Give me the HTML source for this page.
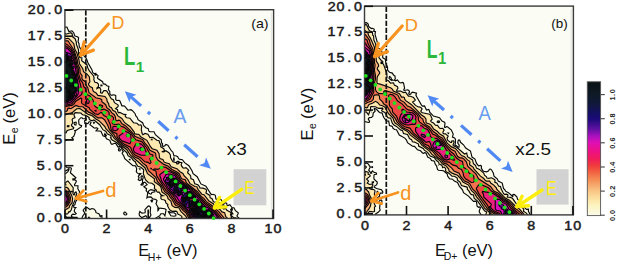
<!DOCTYPE html><html><head><meta charset="utf-8"><style>html,body{margin:0;padding:0;background:#fff;width:617px;height:262px;overflow:hidden}svg{display:block}</style></head><body><svg width="617" height="262" viewBox="0 0 617 262"><clipPath id="ca"><rect x="64.9" y="9.7" width="208.7" height="208.8"/></clipPath><rect x="64.9" y="9.7" width="208.7" height="208.8" fill="#fbfcf4"/><g clip-path="url(#ca)" stroke="#080808" stroke-width="1.15"><path fill="#fbfae6" d="M241.9 221.7 212.9 222.3 140.1 221.7 140.2 219.7 141.9 217.8 144.9 220.0 147.6 219.7 146.7 216.7 145.9 215.8 141.9 217.6 139.5 215.7 139.1 213.7 139.9 211.5 141.9 213.1 145.0 212.7 145.3 211.7 144.9 209.7 147.9 206.3 148.9 205.9 149.9 206.4 150.6 207.7 150.2 212.7 150.9 214.7 150.7 215.7 149.2 217.7 152.9 220.0 159.7 215.7 160.9 213.7 163.5 213.7 164.9 215.8 166.1 209.7 164.9 208.7 159.9 208.1 158.9 208.7 156.0 203.7 157.0 200.7 155.9 199.5 152.9 198.9 150.9 196.9 147.9 197.1 146.9 197.9 147.8 192.7 146.1 190.7 146.6 188.7 143.9 186.7 147.1 184.7 144.9 182.2 143.5 182.7 142.9 184.9 141.9 185.1 141.0 184.7 142.6 182.7 142.5 179.7 143.2 177.7 142.9 176.4 141.9 175.8 141.0 176.7 141.4 179.7 140.9 180.1 139.9 180.6 138.2 179.7 139.1 177.7 138.3 176.7 138.6 175.7 140.9 173.7 139.9 173.4 138.9 174.1 137.0 172.7 136.3 171.7 136.7 168.7 135.9 166.6 134.9 165.6 132.9 165.7 124.8 158.7 123.7 155.7 122.2 153.7 122.3 152.7 123.3 151.7 122.4 150.7 121.4 147.7 119.9 146.7 117.9 146.8 115.9 143.6 114.9 143.3 111.9 144.3 111.0 143.7 109.9 140.3 106.5 138.7 105.4 136.7 106.4 135.7 104.9 133.7 104.5 134.7 105.4 135.7 104.9 136.5 103.0 135.7 100.9 131.3 96.1 130.7 97.9 128.7 96.9 127.8 94.9 128.1 93.9 127.7 89.9 124.7 91.0 122.7 90.0 121.7 89.1 121.7 87.9 123.6 84.9 123.5 84.6 120.7 85.9 120.3 86.3 118.7 82.9 118.7 81.9 117.7 80.9 117.7 78.9 119.7 78.7 120.7 78.9 123.8 79.4 124.7 81.6 125.7 81.4 126.7 75.9 130.4 74.1 130.7 74.9 130.9 75.4 131.7 73.9 136.1 71.8 137.7 72.9 138.7 73.3 139.7 72.9 140.2 68.9 139.6 65.3 140.7 63.3 141.7 62.9 142.5 61.9 142.3 62.2 130.7 61.2 77.7 61.9 25.8 63.9 27.3 66.9 27.0 68.9 31.5 71.9 30.8 73.7 32.7 74.9 36.1 77.5 36.7 78.6 37.7 78.1 41.7 79.0 43.7 79.3 46.7 81.3 49.7 80.9 52.2 79.8 52.7 79.9 54.4 80.9 55.5 82.9 54.7 86.5 58.7 87.9 62.7 91.9 69.7 92.8 72.7 93.9 73.5 95.9 73.4 95.9 74.4 94.9 74.3 94.9 75.0 95.9 75.2 96.9 74.6 98.1 75.7 97.4 77.7 97.9 78.6 102.6 81.7 103.2 83.7 103.9 84.2 104.9 83.9 106.9 85.7 108.9 86.4 108.4 89.7 109.8 91.7 109.8 93.7 110.5 94.7 111.9 95.4 112.9 94.8 114.9 95.0 115.8 95.7 115.7 99.7 116.9 100.5 118.9 100.4 119.9 101.0 121.9 105.8 123.9 105.8 124.9 106.4 127.9 110.2 130.9 109.7 132.5 110.7 135.1 113.7 135.7 115.7 137.4 117.7 138.0 119.7 142.6 122.7 143.8 125.7 145.9 127.7 148.2 128.7 148.9 131.2 149.9 131.7 154.0 131.7 155.4 134.7 161.3 139.7 161.5 142.7 162.6 143.7 162.2 145.7 162.9 146.5 164.8 145.7 165.9 144.5 167.9 145.2 171.3 150.7 172.9 152.2 173.9 155.7 175.9 155.8 177.7 156.7 178.7 158.7 179.9 159.4 182.4 159.7 184.6 162.7 188.9 165.7 192.0 170.7 193.1 173.7 197.2 176.7 200.9 183.9 205.9 186.3 210.9 194.0 211.9 194.7 212.9 194.3 214.9 195.0 215.4 195.7 215.9 199.0 216.9 199.6 218.9 198.4 221.2 199.7 222.8 203.7 221.9 206.1 222.9 206.6 224.0 205.7 223.6 203.7 224.9 202.7 225.9 202.9 226.9 203.7 226.9 205.3 227.9 205.6 229.9 204.7 231.9 207.5 233.9 207.7 235.5 210.7 238.2 212.7 238.2 213.7 237.0 215.7 237.3 216.7 242.0 220.7 241.9 221.7ZM63.9 29.7 62.7 29.7 63.9 29.7ZM81.9 52.9 81.4 52.7 82.2 52.7 81.9 52.9ZM102.0 85.7 101.9 85.0 100.9 85.0 100.9 85.8 102.0 85.7ZM94.5 122.7 93.9 122.3 93.5 122.7 93.9 123.3 94.5 122.7ZM63.9 142.9 63.0 142.7 63.9 142.1 63.9 142.9ZM119.9 151.0 118.7 150.7 118.4 149.7 118.9 148.2 120.4 149.7 119.9 151.0ZM173.9 160.7 174.3 159.7 173.9 157.8 173.5 158.7 173.9 160.7ZM130.1 159.7 129.9 159.3 128.9 159.7 130.1 159.7ZM61.9 162.8 61.9 162.0 61.9 162.8ZM108.9 221.7 91.1 221.7 90.6 218.7 88.9 217.1 87.9 218.5 87.8 219.7 89.3 221.7 63.9 221.7 61.9 220.9 61.4 195.7 61.9 168.3 62.9 168.1 63.9 166.3 64.9 165.8 66.9 167.5 70.9 167.8 71.4 168.7 70.4 172.7 75.9 177.7 74.9 178.6 72.9 178.7 72.9 179.8 74.9 179.8 76.1 180.7 76.3 181.7 74.5 184.7 74.7 185.7 78.0 185.7 77.8 188.7 79.5 191.7 79.0 196.7 75.7 201.7 74.9 204.6 73.5 205.7 73.9 207.3 75.8 207.7 74.9 208.5 74.3 210.7 74.4 211.7 76.2 213.7 74.9 214.5 72.9 214.2 72.0 214.7 71.4 215.7 71.6 216.7 72.9 217.3 76.9 217.3 78.9 219.3 81.9 218.2 82.9 215.7 84.6 213.7 84.7 212.7 83.2 210.7 83.4 209.7 85.3 207.7 86.9 207.4 89.9 209.5 91.9 208.5 93.9 209.0 95.6 210.7 96.0 212.7 98.9 213.8 99.9 215.6 100.7 215.7 99.9 217.1 100.9 215.8 101.9 215.7 101.9 217.7 102.9 219.5 105.9 220.6 107.9 220.3 109.7 221.7 108.9 221.7ZM65.4 173.7 67.9 171.7 69.0 169.7 68.9 168.1 67.8 169.7 63.6 171.7 63.1 172.7 64.9 174.1 65.4 173.7ZM140.0 168.7 139.5 168.7 139.9 169.3 140.0 168.7ZM151.4 193.7 151.9 192.4 154.9 191.8 155.0 190.7 150.9 189.7 148.9 190.6 148.1 192.7 149.9 193.8 150.9 194.1 151.4 193.7ZM151.9 201.9 150.9 200.7 151.9 200.0 152.6 200.7 151.9 201.9ZM157.9 210.5 157.9 208.2 158.6 208.7 158.7 209.7 157.9 210.5ZM232.4 209.7 231.9 208.1 230.7 209.7 231.9 210.2 232.4 209.7ZM175.8 215.7 175.9 214.1 174.0 212.7 170.9 212.6 168.9 211.5 168.4 211.7 170.9 215.8 173.9 216.2 175.8 215.7ZM125.9 215.0 124.6 214.7 123.7 213.7 123.9 212.5 124.9 211.9 126.8 213.7 126.6 214.7 125.9 215.0ZM66.2 216.7 65.9 216.2 65.0 216.7 65.9 217.1 66.2 216.7ZM160.8 218.7 159.9 217.3 159.3 217.7 159.2 218.7 159.9 219.4 160.8 218.7ZM114.9 221.7 112.4 221.7 111.9 219.7 112.9 218.7 113.9 219.0 114.6 219.7 114.9 221.7ZM125.9 221.7 121.4 221.7 118.6 219.7 121.9 219.1 126.8 221.7 125.9 221.7ZM135.9 221.7 130.3 221.7 129.7 220.7 130.9 219.6 133.9 221.0 135.9 220.9 135.9 221.7Z"/><path fill="#fce8b0" d="M237.9 221.7 212.9 222.3 178.5 221.7 178.9 219.7 181.9 218.1 181.9 216.7 180.9 215.6 177.9 214.1 176.9 211.6 175.9 211.2 171.9 211.3 169.6 209.7 167.5 205.7 167.9 204.5 165.9 203.0 165.3 200.7 163.9 199.8 161.9 199.5 160.9 198.6 160.9 196.0 163.1 195.7 160.9 194.7 158.9 191.9 157.9 192.4 156.9 191.7 156.0 189.7 154.4 188.7 154.6 185.7 153.9 184.7 151.9 183.2 148.4 182.7 145.5 179.7 143.3 173.7 143.7 169.7 140.9 167.3 137.9 166.3 136.0 163.7 135.3 161.7 133.7 160.7 131.3 157.7 128.0 155.7 126.9 152.7 123.5 149.7 121.9 147.1 118.6 144.7 116.9 142.7 111.9 139.7 111.1 138.7 110.9 135.6 107.2 133.7 105.9 131.5 102.9 129.7 99.7 124.7 94.9 120.7 93.9 119.9 91.9 120.8 89.7 119.7 89.0 118.7 89.2 117.7 88.0 116.7 84.9 115.1 82.5 114.7 80.9 113.0 75.1 112.7 73.9 114.7 75.0 117.7 72.9 118.5 72.1 119.7 72.8 122.7 71.6 124.7 71.5 125.7 73.8 127.7 73.4 128.7 67.9 130.2 67.0 130.7 66.2 132.7 64.9 133.0 64.6 130.7 62.9 128.0 61.9 128.0 61.2 77.7 61.9 32.2 63.9 32.2 65.9 34.2 70.9 32.7 72.2 33.7 72.4 36.7 75.1 38.7 76.2 41.7 76.5 44.7 78.5 49.7 78.5 53.7 79.9 57.6 81.9 57.7 81.7 60.7 86.9 64.7 87.7 67.7 89.2 70.7 93.4 75.7 94.1 77.7 93.8 79.7 94.9 82.3 96.9 82.6 98.2 83.7 98.6 85.7 98.3 86.7 97.0 87.7 96.9 88.7 98.9 87.4 99.9 87.7 100.8 89.7 100.5 92.7 101.9 93.3 103.9 90.6 105.9 90.6 106.9 91.2 111.3 98.7 113.3 99.7 114.5 102.7 117.9 104.8 118.3 105.7 117.9 106.7 115.6 108.7 117.5 109.7 117.9 112.0 118.9 112.9 119.9 112.5 123.9 114.4 125.9 114.5 125.2 115.7 125.4 116.7 126.9 117.8 129.9 118.2 133.5 122.7 136.9 123.3 138.9 125.2 140.9 124.8 141.7 126.7 141.3 129.7 142.2 133.7 142.9 134.7 144.9 133.4 147.9 134.3 149.9 137.6 152.9 137.3 156.9 140.3 159.1 140.7 159.6 142.7 160.8 144.7 160.7 146.7 163.8 148.7 164.6 150.7 161.7 151.7 163.9 151.9 165.9 150.7 168.9 152.7 170.3 154.7 170.6 157.7 172.9 161.7 176.3 162.7 176.9 163.8 177.9 163.8 179.9 162.3 181.9 162.7 181.2 164.7 181.4 165.7 182.9 167.7 183.9 168.2 185.9 167.6 188.2 169.7 188.7 170.7 187.9 171.3 187.6 172.7 190.6 175.7 190.9 178.6 193.4 179.7 194.8 183.7 197.9 184.8 199.5 186.7 199.9 188.0 202.9 188.1 205.9 189.1 206.6 190.7 205.9 193.1 209.9 195.4 210.1 197.7 212.1 198.7 213.4 201.7 219.9 203.1 220.5 203.7 220.2 206.7 223.9 209.1 224.9 208.6 225.9 208.7 226.9 210.2 230.9 212.5 232.2 212.7 232.9 213.7 230.9 213.9 230.5 214.7 231.1 215.7 233.9 217.8 235.9 217.9 238.5 219.7 238.6 221.7 237.9 221.7ZM75.9 125.0 74.9 125.0 74.1 123.7 74.2 122.7 74.9 122.2 75.9 122.1 76.3 122.7 75.9 125.0ZM68.8 126.7 68.9 125.6 67.4 125.7 67.4 126.7 68.8 126.7ZM109.9 137.8 110.6 137.7 109.9 137.8ZM152.1 139.7 151.9 139.2 151.5 139.7 152.1 139.7ZM178.9 162.3 176.9 161.7 177.9 161.1 179.1 161.7 178.9 162.3ZM64.9 178.2 63.9 177.5 64.9 177.0 64.9 178.2ZM66.9 214.2 63.9 212.7 61.9 214.0 61.5 194.7 61.9 182.7 64.1 183.7 64.9 184.8 65.9 184.7 65.1 182.7 67.9 180.9 73.2 187.7 73.0 193.7 73.9 194.8 74.6 194.7 74.7 192.7 75.9 191.9 76.8 193.7 75.4 197.7 75.2 199.7 72.4 205.7 71.3 209.7 69.9 211.8 68.9 211.7 67.8 213.7 66.9 214.2ZM62.9 219.9 61.9 220.0 61.9 216.3 62.9 216.5 63.6 217.7 63.5 219.7 62.9 219.9ZM85.9 221.2 84.9 221.1 84.3 219.7 84.9 217.9 85.9 217.4 86.6 218.7 85.9 221.2ZM68.9 221.3 67.1 219.7 67.8 218.7 68.9 218.3 69.7 218.7 70.0 219.7 68.9 221.3ZM97.9 220.2 93.9 220.0 93.6 218.7 97.9 219.6 97.9 220.2ZM166.9 219.0 166.9 218.4 167.5 218.7 166.9 219.0ZM99.9 221.7 98.0 220.7 98.9 220.1 99.9 220.5 99.9 221.7ZM172.9 221.7 169.1 221.7 169.6 220.7 170.9 220.3 173.1 220.7 172.9 221.7Z"/><path fill="#f8b27a" d="M229.9 221.7 212.9 222.3 187.3 221.7 188.0 220.7 185.9 216.3 180.9 211.3 178.9 207.8 174.9 207.4 172.1 205.7 170.9 201.0 168.0 198.7 167.6 196.7 165.9 194.7 161.9 191.9 161.1 187.7 160.0 185.7 154.3 181.7 154.4 178.7 147.5 173.7 144.9 167.7 129.9 154.7 126.9 149.7 119.9 144.3 116.9 140.6 114.4 138.7 111.8 134.7 105.8 128.7 104.9 126.7 98.9 120.7 95.9 119.0 91.9 115.6 87.9 114.3 79.9 108.5 76.7 108.7 71.9 112.9 68.9 113.5 64.9 115.2 61.9 112.6 61.3 77.7 61.9 35.9 64.9 38.8 67.9 38.3 69.0 38.7 73.8 43.7 74.9 49.4 76.8 52.7 78.9 59.7 79.5 63.7 82.8 68.7 83.5 71.7 86.6 73.7 89.3 76.7 89.9 81.7 88.6 83.7 88.5 84.7 89.9 86.6 92.3 87.7 93.0 90.7 93.9 91.7 95.9 92.7 97.9 95.4 104.9 96.5 106.7 98.7 107.3 101.7 108.7 103.7 108.9 105.7 109.7 106.7 111.4 107.7 112.9 110.3 115.4 111.7 117.9 115.9 121.9 118.4 124.7 122.7 130.2 126.7 133.9 131.6 134.9 133.9 138.9 134.5 140.7 136.7 146.9 140.3 150.5 146.7 152.2 148.7 156.9 150.3 159.1 153.7 159.4 157.7 160.4 158.7 162.9 159.4 163.9 161.7 164.9 162.6 169.2 163.7 171.2 166.7 176.9 168.7 180.0 171.7 182.9 173.4 184.1 175.7 187.9 179.7 190.1 183.7 194.9 186.5 196.9 186.7 198.1 189.7 201.9 194.2 204.0 194.7 208.7 200.7 213.3 203.7 215.4 206.7 220.1 209.7 221.9 211.9 224.6 212.7 225.8 216.7 230.1 220.7 230.4 221.7 229.9 221.7ZM64.9 210.1 61.9 210.0 61.5 195.7 61.9 185.5 64.9 187.3 66.9 187.4 68.4 188.7 71.8 195.7 72.6 198.7 72.1 202.7 69.7 205.7 69.1 207.7 64.9 210.1Z"/><path fill="#f3714f" d="M225.9 221.7 212.9 222.2 190.7 221.7 185.9 212.7 182.9 210.4 179.9 206.7 175.9 205.5 174.9 204.5 172.3 199.7 170.4 197.7 168.8 194.7 164.7 191.7 161.4 185.7 157.5 181.7 155.9 177.7 148.5 170.7 146.3 165.7 142.9 163.1 138.6 158.7 134.9 157.1 133.2 155.7 127.9 147.9 122.9 145.0 119.0 141.7 114.9 136.7 114.0 134.7 109.5 129.7 107.5 124.7 104.5 119.7 101.9 117.9 97.9 117.9 91.9 113.5 88.9 112.4 82.9 106.8 78.9 106.6 75.9 105.4 70.9 108.7 68.9 108.1 67.9 108.5 67.2 110.7 65.9 111.5 61.9 110.0 61.3 77.7 61.9 39.8 64.9 40.9 67.9 40.8 73.9 49.9 77.2 59.7 77.7 63.7 79.9 68.7 80.1 72.7 82.1 75.7 81.9 78.7 82.9 80.1 85.6 81.7 85.7 84.7 87.8 87.7 89.0 92.7 95.9 97.7 100.2 98.7 101.7 99.7 101.9 101.7 105.7 104.7 106.8 107.7 109.5 109.7 111.9 112.9 114.3 114.7 115.3 116.7 115.9 120.3 116.9 120.9 118.9 120.2 119.9 120.5 122.0 123.7 125.4 125.7 131.9 132.1 134.9 136.2 142.9 139.8 144.9 143.2 148.0 146.7 149.9 150.3 155.0 152.7 155.7 153.7 156.0 156.7 157.9 160.0 163.9 164.4 167.9 166.0 171.9 169.4 176.9 171.9 179.2 173.7 181.5 178.7 185.3 179.7 186.4 182.7 187.4 183.7 197.5 191.7 200.9 196.2 203.9 198.3 206.4 201.7 211.9 205.4 218.8 211.7 225.5 219.7 225.9 221.7ZM62.9 208.0 61.9 208.0 61.9 188.5 63.9 189.1 67.5 191.7 69.6 194.7 70.5 197.7 70.0 201.7 67.9 205.3 65.9 207.0 62.9 208.0Z"/><path fill="#ee4844" d="M149.9 163.8 147.9 162.4 144.9 161.8 140.5 157.7 134.9 155.1 132.8 152.7 130.7 147.7 129.9 146.9 123.9 143.9 119.9 141.2 117.0 136.7 116.9 133.7 112.9 131.9 111.8 130.7 110.9 128.7 110.3 124.7 106.9 117.1 104.1 115.7 101.9 112.8 100.9 112.4 97.9 114.6 94.9 113.8 90.1 109.7 89.1 107.7 82.1 103.7 81.5 102.7 81.7 98.7 80.9 98.0 75.9 101.2 73.9 104.1 71.9 105.4 67.9 105.9 61.9 108.0 61.3 77.7 61.9 42.0 66.9 44.4 70.9 47.8 73.9 52.5 76.2 60.7 76.7 64.7 78.4 68.7 78.6 73.7 80.4 79.7 82.7 82.7 83.8 86.7 85.5 88.7 86.6 93.7 87.4 94.7 89.9 95.9 92.9 99.7 94.6 105.7 95.9 107.1 100.9 109.8 103.9 109.1 107.9 111.0 109.1 112.7 109.1 114.7 109.9 115.6 111.9 116.0 113.5 117.7 113.5 119.7 112.1 122.7 112.7 123.7 114.9 124.5 118.9 124.2 120.9 126.2 123.9 127.1 130.9 132.8 133.2 136.7 135.7 139.7 141.9 141.6 146.6 147.7 149.9 154.1 152.9 154.9 152.8 156.7 149.9 158.6 151.0 162.7 149.9 163.8ZM101.9 107.4 99.9 106.8 99.4 105.7 99.9 104.7 102.5 105.7 102.6 106.7 101.9 107.4ZM222.9 221.7 212.9 222.2 192.4 221.7 186.9 211.8 183.9 209.4 180.9 205.9 175.9 203.0 173.6 198.7 171.7 196.7 169.9 193.7 165.9 190.4 156.7 175.7 155.9 171.1 152.8 169.7 154.9 168.9 157.9 169.4 161.9 166.8 165.9 167.4 172.9 171.9 176.9 173.6 178.7 175.7 180.4 179.7 193.2 189.7 197.9 194.1 205.4 202.7 211.3 206.7 215.5 210.7 222.9 219.7 223.7 221.7 222.9 221.7ZM151.9 168.7 150.8 168.7 150.9 168.3 151.9 168.7ZM63.9 206.0 61.9 206.3 61.9 190.3 63.9 190.9 66.5 192.7 68.1 194.7 69.2 197.7 69.1 200.7 68.2 202.7 66.7 204.7 63.9 206.0ZM187.1 198.7 187.6 197.7 186.9 197.5 187.1 198.7ZM193.5 211.7 192.6 211.7 192.9 212.1 193.5 211.7ZM197.5 212.7 196.9 212.3 196.5 212.7 196.9 213.4 197.5 212.7ZM205.1 214.7 204.7 214.7 205.1 214.7ZM212.8 216.7 210.7 216.7 210.9 217.2 211.9 217.3 212.8 216.7Z"/><path fill="#ec1e7e" d="M63.9 105.8 61.9 106.2 61.5 99.7 61.9 97.7 61.4 77.7 61.9 44.2 66.9 46.7 70.9 49.6 73.2 53.7 75.1 60.7 75.6 64.7 77.1 68.7 77.4 74.7 80.2 83.7 82.2 92.7 81.4 94.7 75.9 98.8 71.8 103.7 63.9 105.8ZM69.2 59.7 69.4 58.7 68.9 58.0 67.8 58.7 67.5 59.7 69.2 59.7ZM74.2 73.7 73.9 72.1 72.9 72.5 73.4 73.7 74.2 73.7ZM88.9 103.0 87.9 103.6 86.6 102.7 86.6 99.7 87.9 98.8 89.4 100.7 88.9 103.0ZM95.9 111.2 95.1 110.7 95.9 110.4 95.9 111.2ZM114.9 130.8 113.9 130.7 112.8 129.7 112.9 126.8 113.9 126.3 117.6 126.7 118.2 128.7 117.4 129.7 114.9 130.8ZM129.9 143.7 121.9 140.9 119.7 138.7 119.0 136.7 119.2 135.7 122.4 133.7 123.9 130.6 128.4 132.7 130.7 134.7 131.3 140.7 129.9 143.7ZM145.9 155.2 140.9 155.2 134.9 152.5 133.7 150.7 133.3 148.7 135.9 143.9 140.9 143.8 143.9 146.7 146.4 152.7 146.5 153.7 145.9 155.2ZM220.9 221.7 212.9 222.1 195.3 221.7 193.4 220.7 187.9 211.3 179.9 203.4 176.9 201.6 174.9 197.7 170.8 192.7 167.5 189.7 165.9 186.7 161.9 181.6 159.8 175.7 159.9 174.6 163.6 171.7 164.9 171.3 169.9 171.7 176.1 174.7 179.9 180.7 191.9 190.1 197.7 195.7 204.5 203.7 213.9 210.7 220.8 219.7 221.7 221.7 220.9 221.7ZM63.9 204.8 61.9 204.9 61.9 191.7 63.9 192.2 65.9 193.7 68.2 197.7 68.3 199.7 67.6 201.7 65.9 203.8 63.9 204.8ZM188.3 198.7 187.9 197.4 186.9 197.2 186.3 197.7 186.9 199.2 188.3 198.7ZM193.2 206.7 191.9 206.7 193.2 206.7ZM197.3 207.7 196.9 206.1 196.0 207.7 197.3 207.7ZM193.9 212.7 194.3 211.7 193.9 211.4 192.9 211.1 191.6 211.7 192.9 213.0 193.9 212.7ZM197.2 213.7 198.0 212.7 196.9 211.9 196.1 212.7 196.6 213.7 197.2 213.7ZM205.9 214.7 204.9 214.1 204.0 214.7 204.9 215.2 205.9 214.7ZM212.4 217.7 213.5 216.7 212.9 216.3 210.9 216.1 210.4 216.7 210.9 217.8 212.4 217.7Z"/><path fill="#dc10b8" d="M66.9 103.9 62.9 104.1 62.8 102.7 61.9 102.5 61.6 100.7 62.0 97.7 61.5 90.7 61.5 63.7 61.8 49.7 62.5 48.7 61.9 46.2 67.6 48.7 70.9 51.9 71.9 53.7 73.3 57.7 71.5 59.7 71.9 60.5 72.9 60.5 73.9 59.2 78.7 87.7 78.2 93.7 77.1 95.7 70.9 102.2 68.9 103.0 68.0 102.7 68.3 101.7 67.5 101.7 67.8 102.7 66.9 103.9ZM69.7 59.7 69.9 58.7 68.9 57.2 67.0 59.7 67.9 60.1 69.7 59.7ZM71.6 65.7 71.1 64.7 70.6 64.7 70.5 65.7 71.6 65.7ZM74.7 73.7 73.9 70.9 72.9 70.4 72.8 73.7 73.9 74.1 74.7 73.7ZM75.6 95.7 76.4 94.7 76.5 93.7 75.9 93.0 74.9 93.0 74.2 94.7 74.9 96.1 75.6 95.7ZM126.9 136.4 126.3 135.7 126.9 134.7 127.9 135.7 126.9 136.4ZM141.9 150.6 140.9 150.3 140.0 148.7 140.9 147.5 142.5 148.7 141.9 150.6ZM218.9 221.8 212.9 222.1 197.5 221.7 194.4 219.7 192.9 218.0 190.7 212.7 192.9 213.4 194.4 212.7 194.8 211.7 190.9 210.2 189.9 212.2 179.0 200.7 176.6 196.7 173.9 194.5 168.5 188.7 163.6 179.7 163.7 178.7 165.9 174.9 166.9 174.2 169.9 174.0 175.1 175.7 178.9 181.3 186.7 186.7 196.0 195.7 202.9 204.0 205.9 206.7 209.5 208.7 208.6 209.7 209.9 210.0 210.9 209.6 212.3 210.7 215.9 214.9 219.5 220.7 219.9 221.7 218.9 221.8ZM168.2 178.7 168.4 177.7 167.9 177.1 166.3 177.7 166.7 178.7 168.2 178.7ZM177.0 185.7 177.4 184.7 176.9 184.4 176.5 184.7 177.0 185.7ZM183.9 190.7 182.9 190.3 182.6 190.7 183.9 190.7ZM177.9 192.7 177.9 191.5 176.8 192.7 177.9 192.7ZM187.9 192.7 188.3 191.7 186.9 191.0 186.6 191.7 187.9 192.7ZM62.9 203.7 61.9 203.6 61.9 200.4 63.1 199.7 62.9 198.7 61.9 198.2 61.9 192.9 62.9 193.0 65.6 194.7 67.4 198.7 66.9 200.7 65.9 202.2 62.9 203.7ZM195.2 199.7 195.6 198.7 194.9 198.4 189.9 198.5 186.9 196.8 185.9 197.7 186.9 199.7 188.9 198.9 189.9 199.9 190.9 200.1 195.2 199.7ZM198.0 207.7 196.9 204.7 196.1 206.7 195.0 207.7 196.9 208.2 198.0 207.7ZM190.4 208.7 191.2 207.7 192.9 207.6 193.7 206.7 192.9 205.8 191.9 205.8 189.3 207.7 189.0 208.7 189.9 209.6 190.4 208.7ZM197.6 213.7 198.3 212.7 197.2 211.7 196.4 211.7 195.5 212.7 196.9 214.3 197.6 213.7ZM206.2 214.7 204.9 213.7 203.9 213.7 203.5 214.7 204.9 215.5 206.2 214.7ZM213.2 217.7 214.4 216.7 213.9 216.1 210.9 215.8 210.1 216.7 210.9 218.0 213.2 217.7Z"/><path fill="#8410b0" d="M65.9 102.7 61.9 102.0 61.6 99.7 61.9 98.0 62.5 97.7 61.8 95.7 61.5 90.7 61.5 63.7 62.5 56.7 61.9 56.1 61.8 53.7 63.3 51.7 61.9 50.9 61.9 50.0 63.9 48.7 64.9 49.2 65.3 51.7 65.9 52.4 69.9 53.4 71.1 54.7 71.8 57.7 70.9 59.3 70.6 56.7 68.9 56.0 66.6 59.7 67.9 60.3 70.9 60.0 73.5 62.7 72.9 64.5 69.9 64.5 69.7 65.7 72.9 66.1 73.9 66.7 74.0 67.7 72.7 69.7 72.6 73.7 73.9 74.4 74.9 74.1 75.9 75.0 76.2 78.7 77.2 82.7 77.1 90.7 76.6 91.7 74.9 92.2 73.9 93.7 73.5 97.7 71.9 99.5 70.9 99.7 69.9 97.7 70.0 96.7 70.5 94.7 71.4 93.7 70.4 93.7 68.9 96.7 69.9 97.7 69.9 99.8 70.6 100.7 66.9 101.5 65.9 102.7ZM178.9 196.0 177.0 194.7 178.5 192.7 178.7 191.7 178.0 190.7 176.9 191.0 175.9 193.5 174.9 193.9 173.6 192.7 172.9 190.6 170.1 188.7 169.4 186.7 165.6 181.7 165.3 180.7 165.9 179.6 167.4 179.7 167.9 180.3 169.2 178.7 168.9 175.8 171.9 175.9 172.9 176.7 170.9 178.0 170.3 178.7 170.9 179.0 172.9 178.2 174.9 178.0 175.9 178.4 178.9 183.3 184.9 186.0 187.5 188.7 187.8 189.7 185.9 190.5 182.8 188.7 181.9 186.4 180.9 186.3 180.7 187.7 181.8 188.7 182.0 189.7 181.3 190.7 181.9 193.7 178.9 196.0ZM178.4 185.7 178.5 184.7 177.9 184.1 176.9 183.8 175.6 184.7 176.9 186.3 178.4 185.7ZM218.9 221.7 212.9 222.1 208.9 221.4 203.1 221.7 201.9 221.5 200.9 220.2 199.9 220.0 197.9 220.8 195.8 219.7 192.4 214.7 194.9 212.8 196.9 214.7 198.6 212.7 197.9 211.7 194.9 211.4 191.9 210.0 191.1 208.7 191.9 208.0 195.9 208.6 197.9 208.3 198.4 207.7 197.9 204.9 196.9 204.2 194.9 207.1 192.9 205.5 191.9 205.3 187.9 207.8 184.9 205.9 182.9 203.7 181.0 199.7 182.5 194.7 182.0 193.7 182.3 192.7 184.9 191.4 185.9 191.8 186.9 193.3 187.9 193.4 188.9 191.6 189.9 191.3 192.9 193.6 196.0 196.7 195.3 197.7 190.9 198.1 186.9 196.3 185.9 196.7 185.6 197.7 186.4 199.7 186.9 200.2 188.9 199.6 189.6 200.7 189.7 201.7 188.7 203.7 189.9 203.6 190.1 201.7 190.9 201.0 193.9 200.5 196.9 199.3 198.4 200.7 198.9 202.0 201.5 203.7 202.2 204.7 201.9 205.8 204.9 206.8 205.6 207.7 205.6 209.7 207.9 210.0 212.0 211.7 213.5 214.7 210.9 215.5 209.8 216.7 210.0 217.7 210.9 218.2 214.9 217.3 215.9 217.7 218.9 221.7ZM63.9 197.3 61.9 197.4 61.9 193.9 63.9 194.3 65.3 195.7 63.9 197.3ZM62.9 202.5 61.9 202.4 61.9 201.4 62.9 201.2 63.3 201.7 62.9 202.5ZM205.6 215.7 206.4 214.7 205.9 214.0 203.9 213.1 203.2 213.7 203.6 215.7 205.6 215.7Z"/><path fill="#2c1080" d="M62.9 55.1 61.9 55.2 61.9 54.7 61.9 53.5 62.9 53.2 63.7 53.7 62.9 55.1ZM64.9 102.0 61.9 101.6 61.7 100.7 61.9 98.2 62.9 97.7 62.8 96.7 61.9 96.3 61.7 94.7 61.5 63.7 63.2 56.7 66.9 53.6 68.2 56.7 66.3 59.7 66.9 60.5 69.9 60.3 72.4 62.7 72.3 63.7 69.9 64.1 69.5 65.7 72.1 66.7 72.9 67.7 72.2 70.7 72.4 73.7 72.9 74.3 74.9 74.8 75.7 75.7 75.3 78.7 76.5 83.7 75.5 86.7 76.7 89.7 76.5 90.7 73.9 92.6 72.9 94.4 72.5 93.7 69.9 93.3 68.7 96.7 69.3 99.7 68.9 100.4 64.9 102.0ZM73.0 86.7 71.9 86.7 73.0 86.7ZM69.5 91.7 68.9 90.7 67.9 91.7 68.9 92.2 69.5 91.7ZM71.9 98.6 70.9 98.6 70.2 96.7 70.4 95.7 71.9 94.2 72.9 94.8 73.4 96.7 71.9 98.6ZM171.9 187.6 170.9 187.2 167.8 183.7 167.5 182.7 168.9 182.4 169.9 180.3 172.9 178.9 174.9 178.8 176.1 179.7 177.0 182.7 172.2 186.7 171.9 187.6ZM178.9 195.0 178.2 194.7 178.4 193.7 179.5 191.7 177.9 189.6 174.9 192.6 174.2 191.7 173.7 188.7 174.9 186.1 178.9 188.0 179.9 187.9 181.0 188.7 181.1 189.7 180.3 190.7 180.6 193.7 178.9 195.0ZM185.9 189.4 183.9 188.1 183.0 186.7 183.9 186.2 185.9 187.3 186.7 188.7 185.9 189.4ZM185.9 205.5 184.7 204.7 185.1 202.7 183.9 202.7 182.5 200.7 181.8 198.7 182.1 197.7 184.9 193.5 185.9 193.6 186.9 194.6 189.9 192.4 191.6 193.7 191.3 195.7 191.9 196.2 192.9 194.6 195.2 196.7 192.9 197.8 185.9 195.9 185.2 196.7 185.9 199.8 186.9 200.7 187.9 200.3 188.8 200.7 188.6 201.7 186.7 203.7 185.9 205.5ZM62.9 196.7 61.9 196.7 61.9 194.5 63.3 194.7 64.0 195.7 62.9 196.7ZM217.9 221.8 211.9 222.0 208.9 221.0 207.6 221.7 205.5 221.7 205.0 220.7 202.9 221.0 200.9 219.5 196.9 219.7 196.1 217.7 193.9 216.0 193.3 214.7 194.9 213.4 195.9 215.1 196.9 215.2 198.9 212.7 198.4 211.7 194.9 211.1 192.1 209.7 191.7 208.7 192.9 208.3 195.9 208.9 198.2 208.7 198.8 207.7 198.3 204.7 196.7 203.7 194.9 206.6 191.9 204.9 188.9 206.0 188.5 205.7 189.0 204.7 190.7 203.7 191.9 201.4 196.9 200.2 198.4 202.7 200.9 203.9 201.5 206.7 203.9 206.9 204.9 207.7 204.9 209.7 205.9 210.4 207.9 210.5 210.9 211.6 211.9 212.7 212.4 214.7 210.3 215.7 209.7 217.7 210.9 218.4 214.9 218.2 218.5 221.7 217.9 221.8ZM203.0 217.7 203.2 216.7 206.2 215.7 206.7 214.7 203.9 212.5 202.9 212.8 202.4 213.7 203.0 217.7Z"/><path fill="#161448" d="M65.9 101.3 61.9 101.4 61.7 100.7 61.9 98.4 63.2 97.7 63.3 96.7 61.9 95.9 61.7 94.7 61.5 77.7 61.9 61.3 62.6 60.7 63.7 56.7 65.9 55.5 67.7 56.7 67.6 57.7 66.0 59.7 65.9 61.2 69.9 60.6 71.6 62.7 69.1 64.7 69.2 65.7 72.4 67.7 71.9 70.7 72.2 73.7 72.9 74.6 75.2 75.7 74.6 78.7 72.9 80.7 75.1 80.7 75.9 83.7 74.9 85.4 74.0 85.7 76.3 89.7 75.9 91.0 73.9 91.6 72.9 93.4 70.2 92.7 69.7 90.7 68.9 90.1 67.9 91.2 67.6 91.7 69.3 92.7 69.6 93.7 68.6 96.7 68.8 99.7 65.9 101.3ZM73.3 87.7 73.7 85.7 72.9 85.6 71.2 86.7 71.9 87.9 73.3 87.7ZM71.9 98.1 70.9 98.1 70.5 96.7 70.9 95.4 71.9 94.9 72.9 95.6 72.9 96.7 71.9 98.1ZM171.9 185.9 170.9 186.0 169.1 183.7 170.4 180.7 172.9 179.3 174.9 179.3 176.0 180.7 176.1 181.7 173.7 184.7 171.9 185.9ZM175.9 190.3 174.9 190.6 174.8 188.7 175.9 187.6 176.9 187.7 177.2 188.7 175.9 190.3ZM189.9 196.7 187.4 195.7 187.7 194.7 189.9 193.3 190.8 194.7 189.9 196.7ZM61.9 195.9 61.9 195.4 62.5 195.7 61.9 195.9ZM193.9 197.0 192.5 196.7 192.9 195.7 193.9 195.7 194.3 196.7 193.9 197.0ZM184.9 201.7 183.9 201.6 182.7 199.7 182.5 198.7 183.9 197.3 184.9 197.7 185.4 199.7 185.6 200.7 184.9 201.7ZM194.9 206.1 191.9 204.3 191.4 203.7 191.6 202.7 191.9 202.2 195.9 200.9 196.9 201.2 197.1 202.7 195.6 203.7 194.9 206.1ZM201.9 212.9 193.0 209.7 193.9 209.1 199.7 208.7 198.7 205.7 198.9 204.2 199.9 204.1 200.7 204.7 200.9 207.0 203.9 207.3 204.6 208.7 204.2 210.7 202.8 210.7 201.9 212.9ZM217.9 221.7 211.9 221.9 208.9 220.7 206.8 221.7 205.9 220.5 202.9 220.4 200.9 219.0 197.9 219.0 196.4 216.7 198.9 213.5 199.9 213.7 200.9 214.9 201.9 215.1 202.2 217.7 202.9 218.5 204.1 216.7 206.7 215.7 206.9 214.7 204.0 211.7 204.9 210.7 207.9 211.0 210.9 212.4 211.6 213.7 209.9 215.8 209.3 217.7 210.9 218.6 214.5 218.7 217.9 221.7ZM194.9 215.7 194.4 214.7 194.9 214.5 194.9 215.7ZM208.1 218.7 206.9 217.8 206.9 219.1 208.1 218.7Z"/><path fill="#0c1418" d="M65.9 100.9 61.9 101.2 61.8 100.7 61.9 98.7 63.4 97.7 63.7 96.7 61.9 95.6 61.8 94.7 61.5 77.7 62.0 68.7 61.7 62.7 61.9 61.7 63.1 60.7 63.9 56.9 65.9 56.0 67.3 56.7 67.3 57.7 64.5 61.7 65.9 62.0 66.9 61.2 68.9 60.8 70.8 61.7 70.9 62.7 68.9 64.6 68.9 65.7 72.0 67.7 72.0 73.7 72.7 74.7 74.7 75.7 74.9 76.7 72.5 80.7 72.6 81.7 73.8 82.7 73.3 84.7 71.9 85.6 69.9 85.7 71.9 88.2 72.9 88.4 73.9 87.4 74.9 87.7 75.9 89.7 75.6 90.7 73.9 91.1 72.9 93.0 70.9 92.6 69.9 90.3 69.1 89.7 67.9 90.6 67.3 91.7 69.3 93.7 68.5 95.7 68.5 99.7 65.9 100.9ZM66.8 71.7 65.9 71.0 65.5 71.7 66.8 71.7ZM71.9 97.6 70.9 97.5 70.7 96.7 71.9 95.3 72.5 96.7 71.9 97.6ZM171.9 185.2 170.9 185.2 169.9 183.7 170.9 180.8 173.2 179.7 174.9 179.9 175.5 180.7 175.3 181.7 171.9 185.2ZM189.9 196.1 188.9 196.3 188.0 195.7 188.9 194.2 189.9 194.0 190.3 194.7 189.9 196.1ZM184.9 200.4 183.9 200.6 183.5 199.7 183.9 198.4 184.9 198.9 184.9 200.4ZM194.9 205.7 192.1 203.7 192.5 202.7 195.9 201.6 195.0 202.7 194.9 205.7ZM199.9 207.0 199.9 205.4 199.9 207.0ZM200.9 211.5 195.9 210.8 194.3 209.7 199.9 209.4 201.2 207.7 203.8 207.7 204.3 208.7 203.9 209.6 200.9 211.5ZM216.9 221.7 211.9 221.9 210.9 221.7 209.9 220.3 202.7 219.7 204.4 216.7 207.0 215.7 206.9 214.1 204.6 211.7 207.9 211.3 210.3 212.7 210.3 214.7 208.9 217.7 210.9 218.8 213.9 218.9 215.9 221.5 216.9 221.7ZM200.9 218.4 199.0 217.7 197.6 215.7 198.9 214.1 201.9 216.6 200.9 218.4ZM208.6 218.7 208.8 217.7 206.9 217.2 206.4 218.7 206.9 219.7 208.6 218.7Z"/></g><line x1="85.8" y1="10.3" x2="85.8" y2="218.5" stroke="#111" stroke-width="1.7" stroke-dasharray="5.2 1.8"/><line x1="271.4" y1="12.7" x2="271.4" y2="217.5" stroke="#dcdcdc" stroke-width="0.80" stroke-linecap="butt"/><rect x="64.9" y="9.7" width="208.7" height="208.8" fill="none" stroke="#3a3a3a" stroke-width="1.4"/><line x1="65.0" y1="218.5" x2="65.0" y2="209.5" stroke="#111" stroke-width="1.60" stroke-linecap="butt"/><line x1="106.6" y1="218.5" x2="106.6" y2="209.5" stroke="#111" stroke-width="1.60" stroke-linecap="butt"/><line x1="148.2" y1="218.5" x2="148.2" y2="209.5" stroke="#111" stroke-width="1.60" stroke-linecap="butt"/><line x1="189.8" y1="218.5" x2="189.8" y2="209.5" stroke="#111" stroke-width="1.60" stroke-linecap="butt"/><line x1="231.4" y1="218.5" x2="231.4" y2="209.5" stroke="#111" stroke-width="1.60" stroke-linecap="butt"/><line x1="273.0" y1="218.5" x2="273.0" y2="209.5" stroke="#111" stroke-width="1.60" stroke-linecap="butt"/><line x1="64.9" y1="217.5" x2="73.4" y2="217.5" stroke="#111" stroke-width="1.60" stroke-linecap="butt"/><line x1="64.9" y1="191.6" x2="73.4" y2="191.6" stroke="#111" stroke-width="1.60" stroke-linecap="butt"/><line x1="64.9" y1="165.7" x2="73.4" y2="165.7" stroke="#111" stroke-width="1.60" stroke-linecap="butt"/><line x1="64.9" y1="139.8" x2="73.4" y2="139.8" stroke="#111" stroke-width="1.60" stroke-linecap="butt"/><line x1="64.9" y1="113.9" x2="73.4" y2="113.9" stroke="#111" stroke-width="1.60" stroke-linecap="butt"/><line x1="64.9" y1="88.0" x2="73.4" y2="88.0" stroke="#111" stroke-width="1.60" stroke-linecap="butt"/><line x1="64.9" y1="62.1" x2="73.4" y2="62.1" stroke="#111" stroke-width="1.60" stroke-linecap="butt"/><line x1="64.9" y1="36.2" x2="73.4" y2="36.2" stroke="#111" stroke-width="1.60" stroke-linecap="butt"/><line x1="64.9" y1="10.2" x2="73.4" y2="10.2" stroke="#111" stroke-width="1.60" stroke-linecap="butt"/><text transform="translate(0 221.72) scale(1.200 1)" x="30.56 39.56 45.23" font-family="Liberation Sans" font-size="11.90" fill="#1a1a1a" stroke="#1a1a1a" stroke-width="0.45">0.0</text><text transform="translate(0 195.82) scale(1.200 1)" x="30.56 39.56 45.29" font-family="Liberation Sans" font-size="11.90" fill="#1a1a1a" stroke="#1a1a1a" stroke-width="0.45">2.5</text><text transform="translate(0 169.91) scale(1.200 1)" x="30.62 39.56 45.23" font-family="Liberation Sans" font-size="11.90" fill="#1a1a1a" stroke="#1a1a1a" stroke-width="0.45">5.0</text><text transform="translate(0 144.01) scale(1.200 1)" x="30.56 39.56 45.29" font-family="Liberation Sans" font-size="11.90" fill="#1a1a1a" stroke="#1a1a1a" stroke-width="0.45">7.5</text><text transform="translate(0 118.10) scale(1.200 1)" x="23.05 30.56 39.56 45.23" font-family="Liberation Sans" font-size="11.90" fill="#1a1a1a" stroke="#1a1a1a" stroke-width="0.45">10.0</text><text transform="translate(0 92.19) scale(1.200 1)" x="23.05 30.56 39.56 45.29" font-family="Liberation Sans" font-size="11.90" fill="#1a1a1a" stroke="#1a1a1a" stroke-width="0.45">12.5</text><text transform="translate(0 66.29) scale(1.200 1)" x="23.05 30.62 39.56 45.23" font-family="Liberation Sans" font-size="11.90" fill="#1a1a1a" stroke="#1a1a1a" stroke-width="0.45">15.0</text><text transform="translate(0 40.38) scale(1.200 1)" x="23.05 30.56 39.56 45.29" font-family="Liberation Sans" font-size="11.90" fill="#1a1a1a" stroke="#1a1a1a" stroke-width="0.45">17.5</text><text transform="translate(0 14.47) scale(1.200 1)" x="23.23 30.56 39.56 45.23" font-family="Liberation Sans" font-size="11.90" fill="#1a1a1a" stroke="#1a1a1a" stroke-width="0.45">20.0</text><text transform="translate(0 232.82) scale(1.200 1)" x="50.83" font-family="Liberation Sans" font-size="11.90" fill="#1a1a1a" stroke="#1a1a1a" stroke-width="0.45">0</text><text transform="translate(0 232.82) scale(1.200 1)" x="85.50" font-family="Liberation Sans" font-size="11.90" fill="#1a1a1a" stroke="#1a1a1a" stroke-width="0.45">2</text><text transform="translate(0 232.82) scale(1.200 1)" x="120.23" font-family="Liberation Sans" font-size="11.90" fill="#1a1a1a" stroke="#1a1a1a" stroke-width="0.45">4</text><text transform="translate(0 232.82) scale(1.200 1)" x="154.83" font-family="Liberation Sans" font-size="11.90" fill="#1a1a1a" stroke="#1a1a1a" stroke-width="0.45">6</text><text transform="translate(0 232.82) scale(1.200 1)" x="189.56" font-family="Liberation Sans" font-size="11.90" fill="#1a1a1a" stroke="#1a1a1a" stroke-width="0.45">8</text><text transform="translate(0 232.82) scale(1.200 1)" x="220.32 227.83" font-family="Liberation Sans" font-size="11.90" fill="#1a1a1a" stroke="#1a1a1a" stroke-width="0.45">10</text><clipPath id="cb"><rect x="364.5" y="6.1" width="208.9" height="208.8"/></clipPath><rect x="364.5" y="6.1" width="208.9" height="208.8" fill="#fbfcf4"/><g clip-path="url(#cb)" stroke="#080808" stroke-width="1.15"><path fill="#fbfae6" d="M529.5 218.1 509.5 218.6 482.6 218.1 482.9 216.1 482.5 215.1 481.5 215.4 479.3 212.1 479.2 211.1 480.5 207.7 479.5 207.0 478.5 207.3 477.1 206.1 476.5 201.8 475.5 201.1 473.5 201.4 468.5 196.1 463.5 192.6 462.5 189.9 459.3 186.1 457.5 182.4 454.3 181.1 452.5 179.2 449.5 178.7 447.6 176.1 447.3 174.1 443.5 170.8 438.5 170.2 437.5 169.5 436.6 166.1 435.2 164.1 434.5 161.6 433.5 160.9 431.5 160.6 430.5 158.6 427.7 157.1 426.0 153.1 424.5 152.7 423.5 153.3 422.5 153.0 420.5 150.8 417.5 149.8 414.5 146.4 412.5 146.3 407.5 142.7 406.5 140.1 404.8 138.1 399.3 135.1 396.5 129.7 394.5 129.5 392.9 128.1 392.5 126.8 391.6 126.1 389.5 125.6 388.7 121.1 386.5 120.9 385.7 120.1 383.5 117.1 382.1 113.1 379.5 112.5 376.2 109.1 374.5 108.5 374.1 109.1 375.2 111.1 373.2 113.1 372.9 116.1 371.5 117.5 369.5 117.6 368.5 118.4 368.3 119.1 369.5 121.1 369.5 122.1 368.5 122.5 363.5 121.2 361.5 121.5 361.1 91.1 361.4 88.1 360.9 80.1 361.5 23.1 366.5 22.6 368.2 24.1 368.5 26.1 369.5 27.3 371.5 28.6 372.5 28.3 374.1 29.1 374.3 30.1 373.5 31.1 375.5 31.6 375.0 34.1 377.5 43.1 377.1 46.1 377.5 48.1 378.5 48.2 381.5 49.9 381.8 52.1 382.9 54.1 382.6 57.1 383.1 58.1 385.1 59.1 385.5 60.1 385.8 63.1 387.5 67.1 387.6 70.1 389.5 72.2 392.3 73.1 393.5 75.0 395.0 76.1 395.3 79.1 394.1 80.1 395.5 80.8 397.5 79.9 399.5 82.6 400.5 83.0 402.5 82.4 403.5 82.9 404.6 88.1 403.7 90.1 404.5 90.5 407.5 89.8 408.5 90.2 409.3 91.1 409.5 92.1 408.8 93.1 408.9 94.1 409.5 94.5 410.8 94.1 411.2 93.1 412.5 92.2 416.5 93.1 415.9 95.1 416.8 97.1 421.5 105.1 422.5 106.1 424.5 105.9 426.5 110.0 428.5 109.5 429.2 110.1 429.7 112.1 433.5 116.1 439.5 117.7 442.0 121.1 444.5 122.3 445.0 123.1 444.5 127.3 445.5 127.5 446.5 126.7 447.5 126.8 451.4 130.1 453.2 134.1 452.5 137.1 454.5 138.0 455.4 139.1 455.4 143.1 454.8 145.1 456.5 145.7 457.9 147.1 459.0 147.1 459.2 145.1 457.8 143.1 457.8 142.1 458.4 140.1 459.7 140.1 460.5 142.3 463.5 144.8 465.7 148.1 470.5 151.1 472.0 157.1 475.0 159.1 476.4 163.1 478.5 165.8 480.5 165.4 481.5 166.1 481.3 168.1 482.5 170.3 483.5 171.2 486.5 171.9 488.4 171.1 489.5 169.3 490.5 169.1 491.5 169.8 493.4 173.1 494.0 176.1 497.4 179.1 498.2 181.1 502.2 183.1 503.5 188.5 505.1 190.1 505.5 191.2 508.5 192.7 512.5 196.5 513.0 196.1 512.3 195.1 513.5 194.4 514.5 194.6 517.0 197.1 517.5 199.3 519.5 201.1 518.0 204.1 518.2 205.1 523.5 206.4 526.5 209.3 528.5 209.1 528.4 211.1 530.3 215.1 530.2 218.1 529.5 218.1ZM392.7 80.1 391.5 79.1 390.7 77.1 389.5 76.6 389.0 78.1 389.5 78.9 391.5 80.3 392.7 80.1ZM371.7 112.1 371.3 112.1 371.7 112.1ZM439.5 122.1 439.4 121.1 438.5 120.9 437.5 121.3 437.2 122.1 438.5 122.7 439.5 122.1ZM448.7 133.1 448.0 133.1 448.5 133.6 448.7 133.1ZM376.5 218.1 361.5 218.1 361.1 200.1 361.5 168.9 362.8 168.1 363.3 165.1 366.5 162.9 368.4 164.1 370.3 167.1 368.7 170.1 370.2 172.1 370.4 173.1 371.7 173.1 371.5 172.1 372.5 170.8 373.6 172.1 376.5 173.1 376.5 174.2 374.5 174.5 374.0 175.1 373.9 178.1 374.1 179.1 377.2 182.1 377.3 183.1 376.5 184.9 374.5 186.1 374.1 187.1 376.5 188.5 381.5 189.8 382.9 192.1 382.5 193.1 380.4 193.1 379.7 194.1 379.5 196.3 377.1 198.1 377.0 200.1 375.6 202.1 376.5 202.7 378.5 202.6 379.5 200.8 380.5 200.1 381.5 200.0 382.0 201.1 381.5 203.1 379.9 205.1 379.6 208.1 380.2 210.1 378.5 212.1 375.5 214.1 375.4 215.1 376.9 217.1 377.0 218.1 376.5 218.1ZM372.5 167.4 371.4 167.1 372.5 166.8 372.5 167.4ZM371.6 217.1 372.9 216.1 372.5 215.6 370.8 216.1 371.6 217.1ZM478.5 218.1 476.2 218.1 477.5 217.5 478.5 218.1Z"/><path fill="#fce8b0" d="M528.5 218.1 509.5 218.6 490.8 218.1 489.5 215.9 488.5 215.5 486.8 217.1 485.5 216.9 485.2 216.1 486.7 212.1 484.5 210.7 477.6 201.1 474.1 198.1 473.5 195.0 471.5 194.6 470.5 193.8 469.0 191.1 467.2 189.1 467.5 188.1 466.9 187.1 461.5 185.5 459.9 182.1 457.5 180.1 457.2 178.1 454.5 176.3 452.0 176.1 448.8 173.1 446.5 172.1 445.6 171.1 445.7 169.1 445.2 168.1 444.5 167.4 442.6 167.1 441.6 165.1 439.3 164.1 438.5 162.0 436.5 160.5 434.5 157.8 430.3 156.1 427.2 152.1 424.3 150.1 423.5 148.8 418.6 146.1 418.5 144.1 414.5 142.1 412.5 141.7 411.5 139.7 409.5 138.5 407.5 134.5 403.5 133.6 402.5 130.6 400.5 129.9 396.5 126.4 393.9 125.1 392.3 123.1 390.6 118.1 388.5 118.0 387.5 117.3 385.5 113.5 384.3 112.1 382.0 111.1 381.6 110.1 383.0 109.1 382.6 108.1 378.5 108.4 375.5 106.7 371.5 106.6 370.5 107.0 370.6 109.1 368.5 114.9 366.4 112.1 364.5 111.8 363.5 112.1 362.8 113.1 363.0 115.1 361.5 116.3 361.1 91.1 361.5 88.1 360.9 80.1 361.5 27.4 363.5 26.9 365.5 24.4 366.5 24.8 369.0 30.1 369.9 31.1 371.5 31.6 372.5 33.1 372.7 35.1 373.6 36.1 373.9 40.1 375.7 44.1 375.9 49.1 377.1 51.1 377.5 53.1 380.0 54.1 378.8 57.1 379.3 58.1 381.5 60.7 382.5 61.1 382.9 62.1 382.5 63.0 381.2 62.1 380.8 63.1 381.5 63.6 382.5 63.1 383.5 64.3 386.7 73.1 387.1 77.1 386.1 79.1 386.5 79.9 388.5 80.8 390.5 83.1 393.5 82.8 394.4 85.1 397.5 86.7 398.0 88.1 396.7 90.1 396.7 91.1 400.5 91.1 403.5 92.6 405.5 92.1 408.5 96.1 410.5 96.3 413.5 97.4 415.3 100.1 414.6 101.1 413.5 101.3 412.6 102.1 415.5 105.4 418.5 106.9 420.5 107.2 421.5 108.1 422.1 109.1 420.8 111.1 421.3 112.1 422.5 112.8 429.5 114.2 430.5 115.1 432.2 119.1 430.6 121.1 431.5 122.1 433.5 123.0 435.5 125.3 437.5 125.4 439.5 128.1 440.5 128.5 442.5 128.3 443.5 129.1 444.1 130.1 442.9 132.1 443.0 133.1 443.5 133.7 445.5 133.9 448.2 136.1 447.1 138.1 447.6 140.1 450.5 142.5 451.5 142.4 451.7 141.1 453.5 140.8 454.1 142.1 453.0 145.1 453.5 145.8 456.4 147.1 464.5 154.0 466.7 153.1 467.5 156.7 472.5 159.9 473.5 163.8 475.5 165.3 476.5 168.1 479.5 169.4 483.7 173.1 484.5 175.2 486.5 176.8 487.0 178.1 488.5 178.4 491.5 177.8 494.5 179.4 495.1 180.1 494.7 182.1 497.0 183.1 498.5 186.1 500.5 186.6 501.2 189.1 503.5 193.5 504.5 194.4 506.5 194.1 507.5 194.5 508.0 195.1 507.3 197.1 510.5 197.4 512.5 198.3 517.9 206.1 521.5 207.1 522.9 208.1 523.8 209.1 523.5 211.3 526.3 213.1 528.7 216.1 529.1 217.1 529.0 218.1 528.5 218.1ZM438.5 165.4 438.5 164.7 438.5 165.4ZM365.5 168.1 364.5 168.1 364.5 166.1 365.5 166.0 366.4 167.1 365.5 168.1ZM442.5 168.3 442.5 167.3 442.5 168.3ZM365.5 216.3 362.5 216.8 361.5 216.3 361.2 200.1 361.5 181.6 363.1 179.1 364.1 176.1 365.6 175.1 364.8 173.1 365.5 171.4 368.2 172.1 368.1 174.1 370.0 175.1 370.2 176.1 366.6 179.1 368.6 181.1 367.2 183.1 369.5 184.5 372.5 184.0 372.9 185.1 371.5 187.6 369.5 187.6 369.5 188.7 371.5 189.5 373.5 189.5 374.6 190.1 375.0 191.1 374.4 194.1 374.7 196.1 373.4 200.1 374.5 204.2 375.6 206.1 374.5 207.1 374.5 211.5 372.5 211.9 369.5 211.4 366.3 215.1 366.2 216.1 365.5 216.3ZM373.5 182.7 372.5 182.7 372.1 182.1 373.5 181.7 373.5 182.7ZM377.5 192.3 376.9 192.1 377.5 191.5 377.9 192.1 377.5 192.3Z"/><path fill="#f8b27a" d="M524.5 218.1 509.5 218.5 494.2 218.1 492.6 215.1 484.6 208.1 479.5 200.4 476.5 196.9 474.5 193.3 471.5 190.7 468.5 185.1 462.9 182.1 461.1 179.1 457.5 175.3 452.5 173.4 449.1 171.1 448.6 169.1 446.3 166.1 442.5 164.1 440.3 161.1 431.7 154.1 429.5 151.1 421.8 145.1 419.5 142.0 410.4 135.1 407.5 131.4 401.3 128.1 398.2 125.1 395.1 123.1 393.9 121.1 393.0 118.1 388.5 113.7 384.8 107.1 382.5 105.8 379.8 105.1 377.5 102.4 375.5 101.3 372.5 103.2 369.5 104.3 368.5 105.1 367.5 107.5 366.5 107.9 364.5 107.2 361.5 107.3 361.1 91.1 361.7 88.1 361.0 85.1 360.9 80.1 361.4 36.1 361.5 33.7 363.5 31.3 364.5 30.7 365.5 30.9 368.0 33.1 368.5 35.2 370.4 38.1 374.4 47.1 375.0 54.1 376.2 58.1 376.3 61.1 378.3 64.1 378.7 66.1 377.5 67.7 377.3 69.1 379.5 72.1 379.7 73.1 377.5 76.4 377.1 78.1 376.9 82.1 377.5 83.6 380.2 84.1 390.5 87.8 392.3 89.1 393.4 91.1 399.5 93.7 401.5 97.1 403.5 97.1 404.5 97.8 404.6 99.1 405.5 100.4 411.5 104.7 421.5 115.0 424.5 117.0 426.0 119.1 426.0 122.1 426.6 123.1 429.5 124.0 431.1 125.1 433.7 129.1 437.5 131.5 439.9 134.1 443.5 136.2 447.2 143.1 451.5 146.9 455.5 148.5 461.5 155.5 464.5 156.7 467.5 159.9 469.5 161.1 470.0 162.1 469.5 164.1 470.0 165.1 473.1 167.1 474.1 169.1 480.5 176.1 483.5 178.3 485.5 180.6 486.5 181.1 489.7 181.1 490.7 183.1 493.8 185.1 496.5 188.1 496.7 189.1 505.3 198.1 509.5 200.2 515.5 206.2 519.6 209.1 523.8 214.1 524.5 218.1ZM363.5 213.1 361.5 213.0 361.5 190.1 362.5 189.5 365.5 189.3 366.5 189.6 368.7 192.1 369.5 195.1 371.2 198.1 371.2 202.1 370.4 206.1 369.5 208.0 366.5 212.2 365.5 212.9 363.5 213.1Z"/><path fill="#f3714f" d="M522.5 218.1 498.3 218.1 496.7 215.1 492.5 212.7 487.7 209.1 475.8 192.1 472.5 188.9 469.9 184.1 468.5 182.7 464.5 181.1 460.5 176.1 459.1 173.1 454.0 171.1 451.7 168.1 446.9 164.1 443.5 163.0 441.5 159.9 437.5 157.3 432.5 151.2 423.6 145.1 420.5 140.8 411.5 133.5 409.4 131.1 407.5 129.7 403.3 128.1 397.2 122.1 395.0 118.1 390.8 113.1 387.0 106.1 383.8 104.1 382.5 101.9 379.7 99.1 379.4 96.1 378.5 94.6 374.5 95.1 373.6 96.1 373.4 99.1 371.5 101.3 367.5 102.5 365.5 103.8 361.5 104.0 361.2 91.1 362.0 88.1 361.1 85.1 361.0 80.1 361.5 35.7 365.5 34.6 369.4 40.1 370.4 44.1 372.9 49.1 374.5 58.1 374.4 62.1 375.1 65.1 374.4 70.1 375.4 75.1 375.4 79.1 374.5 83.1 375.4 86.1 375.5 89.7 376.5 91.7 378.5 93.4 383.5 93.7 384.3 93.1 383.6 92.1 384.2 91.1 385.5 90.7 392.5 92.7 397.8 95.1 400.5 100.2 404.0 102.1 407.5 106.1 410.5 107.2 418.5 114.1 420.5 117.4 422.8 119.1 423.6 122.1 425.5 124.5 429.5 127.0 433.5 131.8 436.5 133.8 438.5 136.0 442.5 138.2 446.5 144.9 451.5 149.6 455.0 151.1 457.5 156.3 459.5 157.6 462.5 158.1 464.0 159.1 466.5 162.1 467.7 166.1 476.1 174.1 478.5 178.8 490.5 186.5 493.8 191.1 498.5 193.3 504.5 199.1 508.5 201.3 512.5 205.1 514.4 208.1 517.7 210.1 521.5 213.4 523.1 216.1 523.0 218.1 522.5 218.1ZM363.5 209.3 361.5 209.2 361.3 200.1 361.5 192.2 363.5 191.9 367.5 194.4 369.6 198.1 370.0 200.1 369.6 202.1 368.5 204.1 365.5 207.8 363.5 209.3Z"/><path fill="#ee4844" d="M366.5 101.3 361.5 101.7 361.2 91.1 362.3 88.1 361.3 86.1 361.0 80.1 361.5 39.2 365.5 39.1 367.1 40.1 368.2 44.1 371.8 50.1 373.3 58.1 373.4 70.1 374.0 76.1 373.3 83.1 373.8 92.1 370.0 99.1 366.5 101.3ZM473.5 182.3 471.5 182.5 465.5 178.8 463.6 176.1 463.2 173.1 461.5 169.4 458.5 168.3 456.7 166.1 452.5 164.9 449.1 162.1 444.5 161.6 442.5 158.9 438.5 155.6 434.3 151.1 430.5 148.5 428.5 145.7 424.5 144.0 421.7 140.1 413.5 133.1 409.9 128.1 404.5 126.8 401.5 124.4 398.6 121.1 396.4 116.1 392.6 112.1 392.3 109.1 389.7 106.1 389.3 104.1 389.4 100.1 388.4 96.1 388.9 95.1 390.5 94.3 393.1 95.1 395.2 97.1 397.7 101.1 402.3 104.1 406.5 108.8 408.5 109.9 412.5 110.8 414.2 112.1 417.5 115.2 418.3 117.1 418.5 120.1 419.7 122.1 428.5 128.2 430.9 131.1 432.5 134.1 435.5 135.2 441.8 140.1 446.5 146.9 450.5 151.5 453.5 153.7 456.5 158.0 459.5 160.3 462.5 161.5 463.5 167.3 467.5 170.1 469.5 173.5 472.5 174.9 473.7 176.1 474.3 181.1 473.5 182.3ZM521.5 218.1 500.4 218.1 498.5 214.5 493.5 212.0 488.7 208.1 487.4 205.1 479.1 194.1 476.4 189.1 476.4 188.1 478.5 185.2 479.5 184.3 480.5 184.4 488.5 187.8 491.4 191.1 498.5 195.3 503.9 200.1 507.5 201.8 513.5 208.9 520.7 215.1 521.5 216.6 521.5 218.1ZM364.5 206.6 361.5 206.8 361.5 193.9 363.5 193.8 365.8 195.1 367.5 196.8 368.5 199.1 368.1 202.1 366.1 205.1 364.5 206.6Z"/><path fill="#ec1e7e" d="M365.5 100.2 361.5 100.0 361.3 91.1 362.6 88.1 361.5 86.8 361.2 85.1 361.6 66.1 361.1 57.1 361.5 42.5 362.5 42.4 365.3 43.1 367.1 46.1 369.5 48.6 371.2 52.1 372.2 58.1 373.0 75.1 372.3 91.1 371.7 93.1 368.5 98.1 365.5 100.2ZM366.0 55.1 366.7 54.1 366.5 53.4 365.3 54.1 365.4 55.1 366.0 55.1ZM369.0 68.1 368.5 67.0 368.3 68.1 368.5 68.5 369.0 68.1ZM365.9 92.1 365.4 92.1 365.9 92.1ZM414.5 124.5 412.5 124.2 408.5 125.0 405.5 124.6 402.5 123.2 400.5 121.1 399.9 120.1 399.7 118.1 400.6 115.1 402.2 113.1 402.4 112.1 401.8 110.1 402.5 109.3 403.5 109.6 406.5 112.0 412.5 112.7 415.2 115.1 416.0 117.1 415.6 119.1 415.9 122.1 415.5 123.8 414.5 124.5ZM453.5 160.2 450.5 158.7 446.5 160.1 444.5 159.4 439.3 153.1 431.5 147.6 430.5 143.5 429.5 141.8 428.5 141.5 426.5 142.3 425.5 142.0 422.5 139.0 419.5 137.1 415.5 131.1 415.6 128.1 420.5 125.4 422.4 126.1 423.7 128.1 427.5 129.5 429.2 132.1 430.5 136.7 432.5 138.0 436.5 138.4 441.5 141.6 446.5 150.1 450.5 154.5 453.5 156.9 454.4 160.1 453.5 160.2ZM518.5 218.1 502.0 218.1 499.5 213.4 494.4 211.1 491.1 208.1 490.6 207.1 491.3 204.1 483.9 197.1 483.4 194.1 482.2 192.1 482.5 191.4 489.5 192.6 493.5 193.8 500.5 198.3 503.5 201.3 506.5 202.4 510.8 208.1 515.7 212.1 519.3 218.1 518.5 218.1ZM364.5 205.1 363.5 205.6 361.5 205.4 361.5 196.0 362.5 195.6 365.5 196.7 367.3 199.1 366.8 202.1 364.5 205.1Z"/><path fill="#dc10b8" d="M366.5 98.4 365.5 99.0 361.5 98.4 361.4 91.1 362.7 88.1 362.5 87.1 361.5 86.5 361.2 85.1 361.3 69.1 361.9 64.1 361.1 57.1 361.5 46.0 362.5 46.0 365.5 47.9 369.4 51.1 371.2 58.1 372.1 74.1 371.8 86.1 370.7 92.1 369.5 91.1 369.4 94.1 366.5 98.4ZM366.8 55.1 367.6 53.1 366.5 51.9 365.1 53.1 365.0 55.1 365.5 55.7 366.8 55.1ZM369.7 68.1 368.5 66.4 367.9 68.1 368.5 69.1 369.7 68.1ZM366.9 92.1 366.5 91.5 365.5 91.4 364.9 92.1 365.5 92.8 366.5 92.8 366.9 92.1ZM408.5 122.2 405.5 122.8 404.0 122.1 402.5 120.1 402.1 118.1 404.5 114.7 410.5 114.2 412.4 115.1 413.0 116.1 412.2 119.1 408.5 122.2ZM409.1 120.1 409.7 119.1 409.6 117.1 408.5 115.8 405.5 115.7 404.1 117.1 403.9 118.1 406.5 119.1 407.5 120.4 408.5 120.6 409.1 120.1ZM424.5 137.5 421.5 135.7 421.1 135.1 421.5 134.2 424.8 135.1 425.5 136.6 424.5 137.5ZM441.5 149.1 436.5 149.4 433.3 147.1 432.8 145.1 434.1 142.1 436.5 140.5 438.5 140.9 440.4 142.1 443.2 147.1 442.5 148.9 441.5 149.1ZM447.5 157.1 446.5 157.9 445.5 157.7 444.8 156.1 445.3 155.1 446.9 155.1 447.6 156.1 447.5 157.1ZM363.5 204.2 361.5 203.6 361.5 198.3 362.5 197.7 364.5 198.0 365.8 199.1 365.6 202.1 363.5 204.2ZM515.5 218.1 509.5 218.3 506.5 217.6 505.7 218.1 503.6 218.1 500.5 211.3 496.5 210.3 495.3 209.1 495.2 199.1 499.5 199.4 502.5 202.4 506.3 204.1 508.8 209.1 512.8 211.1 514.8 213.1 515.9 216.1 516.0 218.1 515.5 218.1Z"/><path fill="#8410b0" d="M365.5 96.2 361.5 95.8 361.5 90.5 362.8 89.1 362.9 88.1 362.5 86.7 361.5 86.3 361.3 85.1 361.3 69.1 362.4 64.1 361.3 60.1 361.5 49.2 365.5 50.1 365.8 51.1 364.8 52.1 364.5 55.1 365.6 56.1 368.5 54.5 370.1 56.1 370.4 58.1 370.2 61.1 370.8 63.1 370.7 68.1 371.4 71.1 371.4 74.1 370.0 78.1 370.8 80.1 370.5 82.1 371.2 84.1 371.0 88.1 370.5 89.5 368.2 92.1 367.7 94.1 365.5 96.2ZM370.3 69.1 369.8 67.1 368.5 65.8 367.6 67.1 368.1 69.1 370.3 69.1ZM366.1 80.1 365.5 79.4 364.8 80.1 366.1 80.1ZM368.9 84.1 368.5 82.9 367.4 83.1 367.1 84.1 368.9 84.1ZM367.3 93.1 367.4 92.1 366.5 90.9 365.5 91.0 364.4 92.1 365.5 93.4 366.5 93.7 367.3 93.1ZM405.5 121.3 404.9 120.1 405.5 119.8 406.1 120.1 405.5 121.3ZM440.5 145.4 438.5 145.7 435.2 144.1 436.4 142.1 437.5 141.6 438.7 142.1 440.5 144.0 441.1 145.1 440.5 145.4ZM436.5 147.4 435.4 147.1 436.5 147.0 436.5 147.4ZM513.5 218.1 508.5 218.2 506.5 216.9 504.5 217.7 503.9 217.1 503.2 215.1 504.3 212.1 503.8 210.1 503.5 209.4 501.7 209.1 501.2 208.1 501.4 207.1 500.5 206.9 498.9 205.1 498.6 204.1 499.5 202.6 501.5 204.6 503.6 205.1 503.3 207.1 504.5 208.8 506.5 208.8 508.5 210.7 511.5 211.3 512.5 212.1 514.1 215.1 513.5 218.1ZM509.6 214.1 510.3 213.1 509.5 211.2 508.5 212.0 508.2 213.1 509.6 214.1Z"/><path fill="#2c1080" d="M361.5 50.9 361.5 50.0 361.5 50.9ZM363.5 93.1 361.5 92.7 361.5 90.9 363.0 89.1 363.1 88.1 362.5 86.4 361.5 86.1 361.2 80.1 361.5 68.1 362.3 67.1 362.3 65.1 363.0 64.1 361.5 61.2 361.2 56.1 361.5 53.6 363.5 53.0 364.2 55.1 365.5 56.4 366.5 56.5 368.5 55.3 369.6 56.1 369.9 58.1 369.4 61.1 370.3 64.1 369.5 65.8 368.5 65.3 367.5 66.7 367.3 68.1 367.6 69.1 368.5 69.6 370.5 69.7 371.1 71.1 370.9 74.1 369.4 78.1 370.1 80.1 369.8 82.1 369.5 82.9 367.5 82.8 366.6 84.1 367.5 84.8 370.5 84.3 370.1 86.1 370.3 89.1 368.5 91.0 365.5 90.8 363.5 93.1ZM365.0 73.1 364.0 71.1 364.9 70.1 364.5 69.4 363.5 69.2 362.7 70.1 362.8 71.1 364.4 72.1 364.5 73.1 365.0 73.1ZM366.6 80.1 366.3 79.1 365.5 79.0 364.3 80.1 365.5 80.7 366.6 80.1ZM363.1 82.1 362.5 81.7 361.7 82.1 362.5 82.5 363.1 82.1ZM365.5 95.2 363.3 95.1 363.5 93.8 365.7 94.1 365.5 95.2ZM511.5 218.1 508.3 218.1 507.5 216.7 504.3 216.1 504.7 214.1 506.0 212.1 505.2 211.1 505.5 209.8 506.5 210.0 507.3 211.1 506.8 212.1 507.1 213.1 508.5 214.3 510.5 214.3 511.5 212.2 513.2 214.1 513.2 216.1 511.5 218.1Z"/><path fill="#161448" d="M361.5 71.0 361.5 68.3 362.5 67.7 362.7 65.1 363.5 64.3 364.5 64.1 363.5 63.7 361.5 60.9 361.2 56.1 361.5 54.3 362.5 53.8 363.5 54.2 364.6 56.1 366.8 57.1 367.5 58.1 368.0 58.1 368.2 56.1 368.6 56.1 369.2 57.1 369.0 62.1 369.9 63.1 369.5 64.7 368.5 64.4 367.5 66.1 367.1 69.1 366.5 69.8 363.5 68.7 361.5 71.0ZM368.2 63.1 367.5 62.7 367.0 63.1 367.5 63.7 368.2 63.1ZM363.5 92.4 362.5 92.6 361.6 91.1 363.2 89.1 363.3 88.1 362.7 86.1 361.5 85.8 361.5 82.6 362.5 82.9 363.6 82.1 362.5 81.5 361.5 82.0 361.3 81.1 361.5 71.5 362.5 71.6 365.5 74.2 366.1 74.1 366.2 73.1 365.2 71.1 365.5 70.8 366.5 71.1 367.5 70.0 369.5 69.9 370.7 71.1 370.2 75.1 369.1 78.1 369.4 81.1 369.0 82.1 366.8 83.1 365.7 85.1 368.5 85.2 369.9 87.1 370.0 89.1 368.5 90.5 365.5 90.6 363.5 92.4ZM366.9 80.1 367.1 79.1 365.5 78.9 364.7 79.1 364.1 80.1 364.5 80.8 365.5 80.9 366.9 80.1ZM506.5 215.4 505.3 215.1 505.5 214.0 506.9 214.1 507.4 215.1 506.5 215.4ZM510.5 218.1 508.9 218.1 507.6 215.1 510.5 214.8 511.5 213.9 512.5 213.9 513.0 215.1 512.7 216.1 510.5 218.1Z"/><path fill="#0c1418" d="M366.5 69.0 363.3 68.1 363.0 67.1 363.1 65.1 365.3 64.1 361.5 60.7 361.5 54.6 362.5 54.3 368.5 59.7 368.4 61.1 366.3 63.1 367.7 65.1 366.5 69.0ZM361.5 70.0 361.5 68.8 362.0 69.1 361.5 70.0ZM362.5 81.2 361.5 81.7 361.5 73.6 362.5 72.2 364.5 74.2 366.5 74.5 367.1 74.1 366.9 72.1 367.6 71.1 368.5 70.2 369.5 70.2 370.3 71.1 370.1 74.1 368.5 79.1 364.5 79.0 363.5 80.7 362.5 81.2ZM363.5 91.9 362.5 92.1 361.9 91.1 363.3 89.1 363.5 86.1 361.5 85.6 361.5 83.2 362.7 83.1 364.5 81.2 366.5 80.8 368.5 79.1 369.0 81.1 364.9 85.1 365.5 85.7 367.5 85.8 368.5 86.3 370.0 88.1 369.7 89.1 368.5 90.1 365.5 90.3 363.5 91.9ZM509.5 218.1 508.8 216.1 511.5 214.6 512.5 214.8 512.1 216.1 509.5 218.1Z"/></g><line x1="386.3" y1="6.7" x2="386.3" y2="214.9" stroke="#111" stroke-width="1.7" stroke-dasharray="5.2 1.8"/><line x1="571.2" y1="9.1" x2="571.2" y2="213.9" stroke="#dcdcdc" stroke-width="0.80" stroke-linecap="butt"/><rect x="364.5" y="6.1" width="208.9" height="208.8" fill="none" stroke="#3a3a3a" stroke-width="1.4"/><line x1="364.9" y1="214.9" x2="364.9" y2="205.9" stroke="#111" stroke-width="1.60" stroke-linecap="butt"/><line x1="406.5" y1="214.9" x2="406.5" y2="205.9" stroke="#111" stroke-width="1.60" stroke-linecap="butt"/><line x1="448.1" y1="214.9" x2="448.1" y2="205.9" stroke="#111" stroke-width="1.60" stroke-linecap="butt"/><line x1="489.7" y1="214.9" x2="489.7" y2="205.9" stroke="#111" stroke-width="1.60" stroke-linecap="butt"/><line x1="531.3" y1="214.9" x2="531.3" y2="205.9" stroke="#111" stroke-width="1.60" stroke-linecap="butt"/><line x1="572.9" y1="214.9" x2="572.9" y2="205.9" stroke="#111" stroke-width="1.60" stroke-linecap="butt"/><line x1="364.5" y1="213.8" x2="373.0" y2="213.8" stroke="#111" stroke-width="1.60" stroke-linecap="butt"/><line x1="364.5" y1="187.9" x2="373.0" y2="187.9" stroke="#111" stroke-width="1.60" stroke-linecap="butt"/><line x1="364.5" y1="161.9" x2="373.0" y2="161.9" stroke="#111" stroke-width="1.60" stroke-linecap="butt"/><line x1="364.5" y1="136.0" x2="373.0" y2="136.0" stroke="#111" stroke-width="1.60" stroke-linecap="butt"/><line x1="364.5" y1="110.1" x2="373.0" y2="110.1" stroke="#111" stroke-width="1.60" stroke-linecap="butt"/><line x1="364.5" y1="84.1" x2="373.0" y2="84.1" stroke="#111" stroke-width="1.60" stroke-linecap="butt"/><line x1="364.5" y1="58.2" x2="373.0" y2="58.2" stroke="#111" stroke-width="1.60" stroke-linecap="butt"/><line x1="364.5" y1="32.2" x2="373.0" y2="32.2" stroke="#111" stroke-width="1.60" stroke-linecap="butt"/><line x1="364.5" y1="6.3" x2="373.0" y2="6.3" stroke="#111" stroke-width="1.60" stroke-linecap="butt"/><text transform="translate(0 218.02) scale(1.200 1)" x="280.40 289.39 295.06" font-family="Liberation Sans" font-size="11.90" fill="#1a1a1a" stroke="#1a1a1a" stroke-width="0.45">0.0</text><text transform="translate(0 192.09) scale(1.200 1)" x="280.40 289.39 295.12" font-family="Liberation Sans" font-size="11.90" fill="#1a1a1a" stroke="#1a1a1a" stroke-width="0.45">2.5</text><text transform="translate(0 166.15) scale(1.200 1)" x="280.45 289.39 295.06" font-family="Liberation Sans" font-size="11.90" fill="#1a1a1a" stroke="#1a1a1a" stroke-width="0.45">5.0</text><text transform="translate(0 140.21) scale(1.200 1)" x="280.40 289.39 295.12" font-family="Liberation Sans" font-size="11.90" fill="#1a1a1a" stroke="#1a1a1a" stroke-width="0.45">7.5</text><text transform="translate(0 114.27) scale(1.200 1)" x="272.88 280.40 289.39 295.06" font-family="Liberation Sans" font-size="11.90" fill="#1a1a1a" stroke="#1a1a1a" stroke-width="0.45">10.0</text><text transform="translate(0 88.34) scale(1.200 1)" x="272.88 280.40 289.39 295.12" font-family="Liberation Sans" font-size="11.90" fill="#1a1a1a" stroke="#1a1a1a" stroke-width="0.45">12.5</text><text transform="translate(0 62.40) scale(1.200 1)" x="272.88 280.45 289.39 295.06" font-family="Liberation Sans" font-size="11.90" fill="#1a1a1a" stroke="#1a1a1a" stroke-width="0.45">15.0</text><text transform="translate(0 36.46) scale(1.200 1)" x="272.88 280.40 289.39 295.12" font-family="Liberation Sans" font-size="11.90" fill="#1a1a1a" stroke="#1a1a1a" stroke-width="0.45">17.5</text><text transform="translate(0 10.52) scale(1.200 1)" x="273.06 280.40 289.39 295.06" font-family="Liberation Sans" font-size="11.90" fill="#1a1a1a" stroke="#1a1a1a" stroke-width="0.45">20.0</text><text transform="translate(0 229.52) scale(1.200 1)" x="300.75" font-family="Liberation Sans" font-size="11.90" fill="#1a1a1a" stroke="#1a1a1a" stroke-width="0.45">0</text><text transform="translate(0 229.52) scale(1.200 1)" x="335.42" font-family="Liberation Sans" font-size="11.90" fill="#1a1a1a" stroke="#1a1a1a" stroke-width="0.45">2</text><text transform="translate(0 229.52) scale(1.200 1)" x="370.14" font-family="Liberation Sans" font-size="11.90" fill="#1a1a1a" stroke="#1a1a1a" stroke-width="0.45">4</text><text transform="translate(0 229.52) scale(1.200 1)" x="404.75" font-family="Liberation Sans" font-size="11.90" fill="#1a1a1a" stroke="#1a1a1a" stroke-width="0.45">6</text><text transform="translate(0 229.52) scale(1.200 1)" x="439.48" font-family="Liberation Sans" font-size="11.90" fill="#1a1a1a" stroke="#1a1a1a" stroke-width="0.45">8</text><text transform="translate(0 229.52) scale(1.200 1)" x="470.24 477.75" font-family="Liberation Sans" font-size="11.90" fill="#1a1a1a" stroke="#1a1a1a" stroke-width="0.45">10</text><g fill="#1fe31f"><circle cx="66.5" cy="75.9" r="1.9"/><circle cx="71.2" cy="80.5" r="1.9"/><circle cx="75.9" cy="85.1" r="1.9"/><circle cx="80.7" cy="89.7" r="1.9"/><circle cx="85.4" cy="94.2" r="1.9"/><circle cx="90.2" cy="98.8" r="1.9"/><circle cx="94.9" cy="103.4" r="1.9"/><circle cx="99.7" cy="108.0" r="1.9"/><circle cx="104.4" cy="112.6" r="1.9"/><circle cx="109.2" cy="117.2" r="1.9"/><circle cx="113.9" cy="121.8" r="1.9"/><circle cx="118.7" cy="126.4" r="1.9"/><circle cx="123.4" cy="130.9" r="1.9"/><circle cx="128.1" cy="135.5" r="1.9"/><circle cx="132.9" cy="140.1" r="1.9"/><circle cx="137.6" cy="144.7" r="1.9"/><circle cx="142.4" cy="149.3" r="1.9"/><circle cx="147.1" cy="153.9" r="1.9"/><circle cx="151.9" cy="158.5" r="1.9"/><circle cx="156.6" cy="163.0" r="1.9"/><circle cx="161.4" cy="167.6" r="1.9"/><circle cx="166.1" cy="172.2" r="1.9"/><circle cx="170.9" cy="176.8" r="1.9"/><circle cx="175.6" cy="181.4" r="1.9"/><circle cx="180.3" cy="186.0" r="1.9"/><circle cx="185.1" cy="190.6" r="1.9"/><circle cx="189.8" cy="195.2" r="1.9"/><circle cx="194.6" cy="199.7" r="1.9"/><circle cx="199.3" cy="204.3" r="1.9"/><circle cx="204.1" cy="208.9" r="1.9"/><circle cx="208.8" cy="213.5" r="1.9"/><circle cx="213.6" cy="218.1" r="1.9"/></g><g fill="#1fe31f"><circle cx="365.8" cy="75.8" r="1.9"/><circle cx="370.6" cy="80.3" r="1.9"/><circle cx="375.4" cy="84.9" r="1.9"/><circle cx="380.2" cy="89.4" r="1.9"/><circle cx="385.0" cy="94.0" r="1.9"/><circle cx="389.7" cy="98.5" r="1.9"/><circle cx="394.5" cy="103.1" r="1.9"/><circle cx="399.3" cy="107.6" r="1.9"/><circle cx="404.1" cy="112.1" r="1.9"/><circle cx="408.9" cy="116.7" r="1.9"/><circle cx="413.7" cy="121.2" r="1.9"/><circle cx="418.5" cy="125.8" r="1.9"/><circle cx="423.3" cy="130.3" r="1.9"/><circle cx="428.0" cy="134.9" r="1.9"/><circle cx="432.8" cy="139.4" r="1.9"/><circle cx="437.6" cy="143.9" r="1.9"/><circle cx="442.4" cy="148.5" r="1.9"/><circle cx="447.2" cy="153.0" r="1.9"/><circle cx="452.0" cy="157.6" r="1.9"/><circle cx="456.8" cy="162.1" r="1.9"/><circle cx="461.6" cy="166.6" r="1.9"/><circle cx="466.4" cy="171.2" r="1.9"/><circle cx="471.1" cy="175.7" r="1.9"/><circle cx="475.9" cy="180.3" r="1.9"/><circle cx="480.7" cy="184.8" r="1.9"/><circle cx="485.5" cy="189.4" r="1.9"/><circle cx="490.3" cy="193.9" r="1.9"/><circle cx="495.1" cy="198.4" r="1.9"/><circle cx="499.9" cy="203.0" r="1.9"/><circle cx="504.7" cy="207.5" r="1.9"/><circle cx="509.4" cy="212.1" r="1.9"/></g><line x1="108.4" y1="24.0" x2="80.8" y2="55.0" stroke="#f7931e" stroke-width="3.30" stroke-linecap="round"/><line x1="80.8" y1="55.0" x2="93.4" y2="50.1" stroke="#f7931e" stroke-width="3.30" stroke-linecap="round"/><line x1="80.8" y1="55.0" x2="84.2" y2="41.9" stroke="#f7931e" stroke-width="3.30" stroke-linecap="round"/><line x1="402.2" y1="26.0" x2="374.8" y2="56.5" stroke="#f7931e" stroke-width="3.30" stroke-linecap="round"/><line x1="374.8" y1="56.5" x2="387.4" y2="51.6" stroke="#f7931e" stroke-width="3.30" stroke-linecap="round"/><line x1="374.8" y1="56.5" x2="378.3" y2="43.5" stroke="#f7931e" stroke-width="3.30" stroke-linecap="round"/><line x1="103.0" y1="191.0" x2="76.2" y2="198.3" stroke="#f7931e" stroke-width="2.80" stroke-linecap="round"/><line x1="76.2" y1="198.3" x2="86.3" y2="201.3" stroke="#f7931e" stroke-width="2.80" stroke-linecap="round"/><line x1="76.2" y1="198.3" x2="83.3" y2="190.6" stroke="#f7931e" stroke-width="2.80" stroke-linecap="round"/><line x1="398.0" y1="192.5" x2="371.5" y2="201.0" stroke="#f7931e" stroke-width="2.80" stroke-linecap="round"/><line x1="371.5" y1="201.0" x2="381.7" y2="203.6" stroke="#f7931e" stroke-width="2.80" stroke-linecap="round"/><line x1="371.5" y1="201.0" x2="378.3" y2="193.0" stroke="#f7931e" stroke-width="2.80" stroke-linecap="round"/><rect x="233.6" y="169.2" width="32.7" height="36.1" fill="#d2d2d2"/><rect x="536.5" y="169.2" width="32.1" height="35.4" fill="#d2d2d2"/><line x1="241.6" y1="189.3" x2="214.5" y2="207.8" stroke="#fcee0a" stroke-width="3.40" stroke-linecap="round"/><line x1="214.5" y1="207.8" x2="226.0" y2="206.9" stroke="#fcee0a" stroke-width="3.40" stroke-linecap="round"/><line x1="214.5" y1="207.8" x2="219.5" y2="197.4" stroke="#fcee0a" stroke-width="3.40" stroke-linecap="round"/><line x1="542.0" y1="190.0" x2="517.0" y2="206.5" stroke="#fcee0a" stroke-width="3.40" stroke-linecap="round"/><line x1="517.0" y1="206.5" x2="528.5" y2="205.8" stroke="#fcee0a" stroke-width="3.40" stroke-linecap="round"/><line x1="517.0" y1="206.5" x2="522.1" y2="196.2" stroke="#fcee0a" stroke-width="3.40" stroke-linecap="round"/><path d="M124.8 91.2 L129.5 102.4 L131.1 96.9 L136.5 94.7 Z" fill="#5088f4"/><path d="M210.8 168.7 L199.1 165.2 L204.5 163.0 L206.1 157.5 Z" fill="#5088f4"/><line x1="130.7" y1="96.6" x2="141.1" y2="105.9" stroke="#5088f4" stroke-width="3.20" stroke-linecap="butt"/><line x1="147.8" y1="112.0" x2="150.1" y2="114.0" stroke="#5088f4" stroke-width="3.20" stroke-linecap="butt"/><line x1="158.2" y1="121.3" x2="168.6" y2="130.7" stroke="#5088f4" stroke-width="3.20" stroke-linecap="butt"/><line x1="175.3" y1="136.7" x2="177.5" y2="138.7" stroke="#5088f4" stroke-width="3.20" stroke-linecap="butt"/><line x1="184.2" y1="144.8" x2="197.6" y2="156.8" stroke="#5088f4" stroke-width="3.20" stroke-linecap="butt"/><path d="M427.6 95.3 L432.3 106.5 L433.9 101.0 L439.3 98.8 Z" fill="#5088f4"/><path d="M512.7 171.9 L501.0 168.4 L506.4 166.2 L508.0 160.7 Z" fill="#5088f4"/><line x1="433.5" y1="100.7" x2="444.0" y2="110.0" stroke="#5088f4" stroke-width="3.20" stroke-linecap="butt"/><line x1="450.6" y1="116.0" x2="452.9" y2="118.0" stroke="#5088f4" stroke-width="3.20" stroke-linecap="butt"/><line x1="461.0" y1="125.4" x2="471.5" y2="134.8" stroke="#5088f4" stroke-width="3.20" stroke-linecap="butt"/><line x1="478.1" y1="140.8" x2="480.4" y2="142.8" stroke="#5088f4" stroke-width="3.20" stroke-linecap="butt"/><line x1="487.1" y1="148.8" x2="500.4" y2="160.9" stroke="#5088f4" stroke-width="3.20" stroke-linecap="butt"/><text transform="translate(111.38 28.80) scale(0.959 1)" font-family="Liberation Sans" font-weight="normal" font-size="18.55" fill="#f7931e">D</text><text transform="translate(404.74 31.00) scale(1.070 1)" font-family="Liberation Sans" font-weight="normal" font-size="17.10" fill="#f7931e">D</text><text transform="translate(105.29 197.20) scale(0.991 1)" font-family="Liberation Sans" font-weight="normal" font-size="20.41" fill="#f7931e">d</text><text transform="translate(400.20 200.30) scale(0.987 1)" font-family="Liberation Sans" font-weight="normal" font-size="20.27" fill="#f7931e">d</text><text transform="translate(124.11 65.20) scale(0.735 1)" font-family="Liberation Sans" font-weight="bold" font-size="25.07" fill="#2bb83a">L</text><text transform="translate(135.68 71.80) scale(1.016 1)" font-family="Liberation Sans" font-weight="bold" font-size="15.07" fill="#2bb83a">1</text><text transform="translate(426.68 58.20) scale(0.700 1)" font-family="Liberation Sans" font-weight="bold" font-size="24.93" fill="#2bb83a">L</text><text transform="translate(437.91 63.60) scale(0.934 1)" font-family="Liberation Sans" font-weight="bold" font-size="15.94" fill="#2bb83a">1</text><text transform="translate(173.60 122.90) scale(0.977 1)" font-family="Liberation Sans" font-weight="normal" font-size="19.86" fill="#6a9cf0">A</text><text transform="translate(478.60 120.30) scale(0.952 1)" font-family="Liberation Sans" font-weight="normal" font-size="19.42" fill="#6a9cf0">A</text><text transform="translate(226.71 155.04) scale(1.204 1)" font-family="Liberation Sans" font-weight="normal" font-size="15.77" fill="#111">x3</text><text transform="translate(515.31 154.63) scale(1.101 1)" font-family="Liberation Sans" font-weight="normal" font-size="17.18" fill="#111">x2.5</text><text transform="translate(244.51 194.30) scale(0.769 1)" font-family="Liberation Sans" font-weight="normal" font-size="19.28" fill="#fcee0a">E</text><text transform="translate(545.93 194.50) scale(0.802 1)" font-family="Liberation Sans" font-weight="normal" font-size="19.86" fill="#fcee0a">E</text><text transform="translate(251.14 27.74) scale(1.048 1)" font-family="Liberation Sans" font-weight="normal" font-size="13.62" fill="#111">(a)</text><text transform="translate(551.19 28.04) scale(0.988 1)" font-family="Liberation Sans" font-weight="normal" font-size="13.62" fill="#111">(b)</text><linearGradient id="cbg" x1="0" y1="81.8" x2="0" y2="215.6" gradientUnits="userSpaceOnUse"><stop offset="0.0010" stop-color="#0a1214"/><stop offset="0.0957" stop-color="#0e1a26"/><stop offset="0.1678" stop-color="#10183c"/><stop offset="0.2309" stop-color="#141062"/><stop offset="0.2759" stop-color="#1a0a78"/><stop offset="0.3480" stop-color="#5a10a0"/><stop offset="0.4111" stop-color="#b010c0"/><stop offset="0.4562" stop-color="#e010b4"/><stop offset="0.5103" stop-color="#ec108c"/><stop offset="0.5734" stop-color="#f01c5c"/><stop offset="0.6275" stop-color="#f03c3c"/><stop offset="0.6725" stop-color="#f26040"/><stop offset="0.7356" stop-color="#f49058"/><stop offset="0.8077" stop-color="#f8c080"/><stop offset="0.8708" stop-color="#fce0a0"/><stop offset="0.9249" stop-color="#fcf4c0"/><stop offset="0.9970" stop-color="#fafae8"/></linearGradient><rect x="587.3" y="81.8" width="13.3" height="133.8" fill="url(#cbg)" stroke="#555" stroke-width="0.9"/><line x1="600.6" y1="215.2" x2="604.8" y2="215.2" stroke="#444" stroke-width="1.10" stroke-linecap="butt"/><text transform="translate(614.8 215.20) rotate(-90) scale(1.05 1)" text-anchor="middle" font-family="Liberation Sans" font-weight="bold" font-size="7.0" letter-spacing="0.5" fill="#222">0.0</text><line x1="600.6" y1="191.1" x2="604.8" y2="191.1" stroke="#444" stroke-width="1.10" stroke-linecap="butt"/><text transform="translate(614.8 191.08) rotate(-90) scale(1.05 1)" text-anchor="middle" font-family="Liberation Sans" font-weight="bold" font-size="7.0" letter-spacing="0.5" fill="#222">0.2</text><line x1="600.6" y1="167.0" x2="604.8" y2="167.0" stroke="#444" stroke-width="1.10" stroke-linecap="butt"/><text transform="translate(614.8 166.96) rotate(-90) scale(1.05 1)" text-anchor="middle" font-family="Liberation Sans" font-weight="bold" font-size="7.0" letter-spacing="0.5" fill="#222">0.4</text><line x1="600.6" y1="142.8" x2="604.8" y2="142.8" stroke="#444" stroke-width="1.10" stroke-linecap="butt"/><text transform="translate(614.8 142.84) rotate(-90) scale(1.05 1)" text-anchor="middle" font-family="Liberation Sans" font-weight="bold" font-size="7.0" letter-spacing="0.5" fill="#222">0.6</text><line x1="600.6" y1="118.7" x2="604.8" y2="118.7" stroke="#444" stroke-width="1.10" stroke-linecap="butt"/><text transform="translate(614.8 118.72) rotate(-90) scale(1.05 1)" text-anchor="middle" font-family="Liberation Sans" font-weight="bold" font-size="7.0" letter-spacing="0.5" fill="#222">0.8</text><line x1="600.6" y1="94.6" x2="604.8" y2="94.6" stroke="#444" stroke-width="1.10" stroke-linecap="butt"/><text transform="translate(614.8 94.60) rotate(-90) scale(1.05 1)" text-anchor="middle" font-family="Liberation Sans" font-weight="bold" font-size="7.0" letter-spacing="0.5" fill="#222">1.0</text><text x="138.28" y="255.90" font-family="Liberation Sans" font-size="16.50" fill="#111">E</text><text x="147.86" y="260.50" font-family="Liberation Sans" font-size="10.50" fill="#111">H+</text><text x="166.41" y="256.00" font-family="Liberation Sans" font-size="16.50" fill="#111">(eV)</text><text x="434.88" y="256.20" font-family="Liberation Sans" font-size="16.50" fill="#111">E</text><text x="443.66" y="260.40" font-family="Liberation Sans" font-size="10.50" fill="#111">D+</text><text x="461.91" y="256.20" font-family="Liberation Sans" font-size="16.50" fill="#111">(eV)</text><g transform="translate(14.50 143.50) rotate(-90)"><text x="-1.32" y="0" font-family="Liberation Sans" font-size="16.50" fill="#111">E</text><text x="10.23" y="3.20" font-family="Liberation Sans" font-size="10.50" fill="#111">e</text><text x="20.07" y="0" font-family="Liberation Sans" font-size="16.50" fill="#111">(eV)</text></g><g transform="translate(313.10 139.10) rotate(-90)"><text x="-1.32" y="0" font-family="Liberation Sans" font-size="16.50" fill="#111">E</text><text x="10.23" y="3.20" font-family="Liberation Sans" font-size="10.50" fill="#111">e</text><text x="20.07" y="0" font-family="Liberation Sans" font-size="16.50" fill="#111">(eV)</text></g></svg></body></html>
